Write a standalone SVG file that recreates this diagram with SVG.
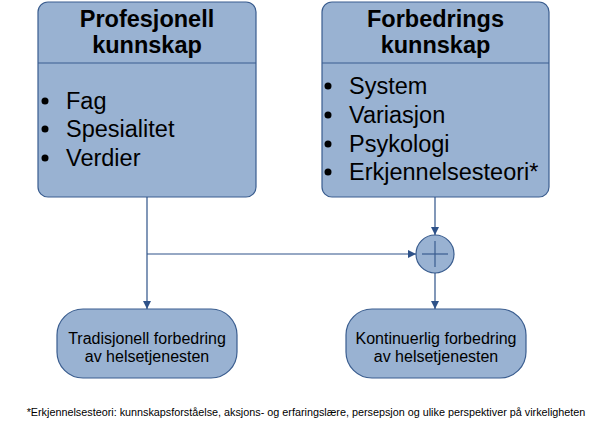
<svg xmlns="http://www.w3.org/2000/svg" width="605" height="424" viewBox="0 0 605 424">
<style>
.box{fill:#99b2d2;stroke:#3a5d8f;stroke-width:1.2}
.div{stroke:#3a5d8f;stroke-width:1.2}
.hdr{font-family:"Liberation Sans",Arial,sans-serif;font-weight:bold;font-size:23.5px;fill:#000;text-anchor:middle}
.item{font-family:"Liberation Sans",Arial,sans-serif;font-size:23.5px;fill:#000}
.lbl{font-family:"Liberation Sans",Arial,sans-serif;font-size:16px;fill:#000;text-anchor:middle}
.note{font-family:"Liberation Sans",Arial,sans-serif;font-size:10.8px;fill:#000;text-anchor:middle}
.con{fill:none;stroke:#2e5289;stroke-width:1.2}
</style>
<defs>
<marker id="arr" viewBox="0 0 8 8" refX="8" refY="4" markerWidth="8" markerHeight="8" markerUnits="userSpaceOnUse" orient="auto">
<path d="M0,0 L8,4 L0,8 Z" fill="#2e5289"/>
</marker>
</defs>
<g id="profesjonell">
<rect class="box" x="38" y="2" width="218" height="195" rx="10"/>
<line class="div" x1="38" y1="63" x2="256" y2="63"/>
<text class="hdr" x="147" y="27">Profesjonell</text>
<text class="hdr" x="147" y="53">kunnskap</text>
<circle cx="45" cy="101" r="3.5"/><text class="item" x="66" y="109">Fag</text>
<circle cx="45" cy="129" r="3.5"/><text class="item" x="66" y="137">Spesialitet</text>
<circle cx="45" cy="158" r="3.5"/><text class="item" x="66" y="166">Verdier</text>
</g>
<g id="forbedrings">
<rect class="box" x="322" y="2" width="227" height="195" rx="10"/>
<line class="div" x1="322" y1="63" x2="549" y2="63"/>
<text class="hdr" x="435.5" y="27">Forbedrings</text>
<text class="hdr" x="435.5" y="53">kunnskap</text>
<circle cx="328" cy="86" r="3.5"/><text class="item" x="349" y="94">System</text>
<circle cx="328" cy="115" r="3.5"/><text class="item" x="349" y="123">Variasjon</text>
<circle cx="328" cy="144" r="3.5"/><text class="item" x="349" y="152">Psykologi</text>
<circle cx="328" cy="172" r="3.5"/><text class="item" x="349" y="180">Erkjennelsesteori*</text>
</g>
<g id="sum">
<circle class="box" cx="435" cy="254" r="19"/>
<line class="div" x1="422" y1="254" x2="448" y2="254"/>
<line class="div" x1="435" y1="241" x2="435" y2="267"/>
</g>
<g id="tradisjonell">
<rect class="box" x="57" y="309" width="180" height="69" rx="26"/>
<text class="lbl" x="147" y="344">Tradisjonell forbedring</text>
<text class="lbl" x="147" y="362">av helsetjenesten</text>
</g>
<g id="kontinuerlig">
<rect class="box" x="346" y="309" width="180" height="69" rx="26"/>
<text class="lbl" x="436" y="344">Kontinuerlig forbedring</text>
<text class="lbl" x="436" y="362">av helsetjenesten</text>
</g>
<g id="connectors">
<line class="con" x1="147" y1="197" x2="147" y2="309" marker-end="url(#arr)"/>
<line class="con" x1="147" y1="254" x2="416" y2="254" marker-end="url(#arr)"/>
<line class="con" x1="435" y1="197" x2="435" y2="235" marker-end="url(#arr)"/>
<line class="con" x1="435" y1="273" x2="435" y2="309" marker-end="url(#arr)"/>
</g>
<text class="note" x="306" y="416">*Erkjennelsesteori: kunnskapsforståelse, aksjons- og erfaringslære, persepsjon og ulike perspektiver på virkeligheten</text>
</svg>
